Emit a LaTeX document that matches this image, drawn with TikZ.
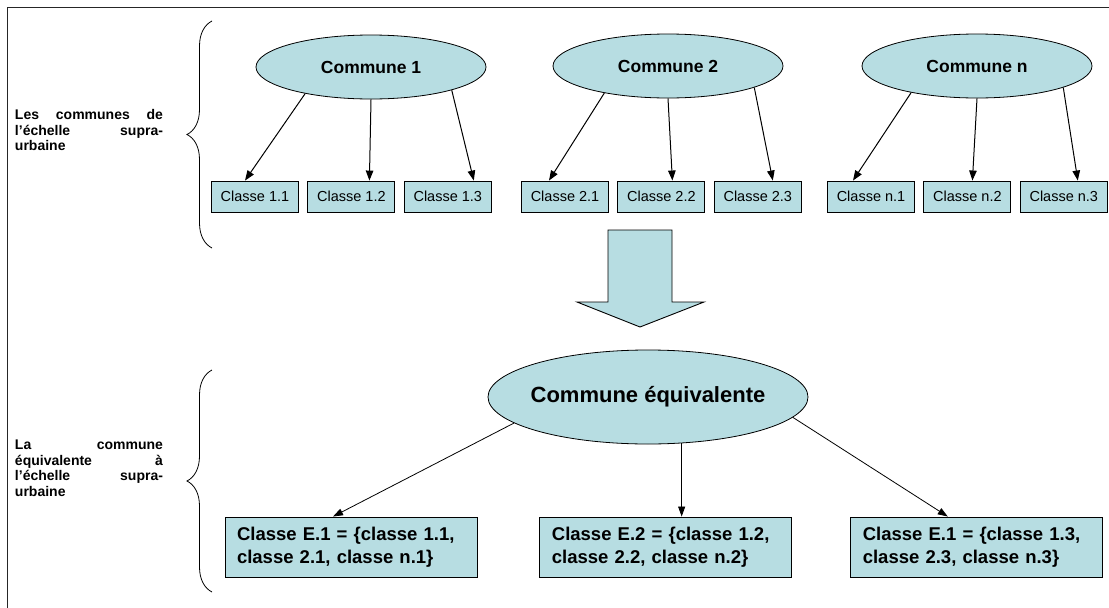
\documentclass[tikz,border=0pt]{standalone}
\usepackage{fontspec}
\setmainfont{Liberation Sans}
\usetikzlibrary{positioning, arrows.meta, shapes.geometric, decorations.pathreplacing}
\definecolor{aqua}{RGB}{183,221,226}

\begin{document}
\begin{tikzpicture}[
  x=1pt, y=-1pt,
  node distance=8.5pt,
  commune/.style={ellipse, draw=black, fill=aqua, line width=0.8pt, minimum width=230pt,
                  minimum height=64pt, font=\fontsize{17.5}{20}\selectfont\bfseries},
  classe/.style={rectangle, draw=black, fill=aqua, line width=0.9pt, minimum width=87pt,
                 minimum height=31pt, inner sep=2pt, font=\fontsize{14.5}{17}\selectfont},
  equiv/.style={commune, minimum width=320pt, minimum height=94pt, inner xsep=-6pt,
                font=\fontsize{22}{26}\selectfont\bfseries},
  result/.style={classe, text width=228pt, inner xsep=12pt, minimum height=60pt, align=left,
                 font=\fontsize{18.5}{22.5}\selectfont\bfseries},
  level/.style={text width=148pt, align=justify, inner sep=0pt,
                font=\fontsize{14}{15.5}\selectfont\bfseries},
  arrow/.style={-{Triangle[length=10pt,width=7.5pt]}, line width=1pt},
  thinarrow/.style={-{Triangle[length=10pt,width=7pt]}, line width=0.8pt},
  bracket/.style={decorate, decoration={brace, amplitude=25pt}, line width=0.8pt},
  bigarrow/.style={draw=black, fill=aqua, line width=0.9pt, line join=miter},
]
  \useasboundingbox (0,0) rectangle (1109,608);
  \draw[line width=1pt, black!85] (7,7) rectangle (1130,630);

  % supra-urban communes
  \node[commune] (com1) at (371,67) {Commune 1};
  \node[commune] (com2) at (668,66) {Commune 2};
  \node[commune] (comn) at (977,66) {Commune n};

  \node[classe] (c11) at (255,196.5) {Classe 1.1};
  \node[classe, right=of c11] (c12) {Classe 1.2};
  \node[classe, right=of c12] (c13) {Classe 1.3};
  \node[classe] (c21) at (565,196.5) {Classe 2.1};
  \node[classe, right=of c21] (c22) {Classe 2.2};
  \node[classe, right=of c22] (c23) {Classe 2.3};
  \node[classe] (cn1) at (871,196.5) {Classe n.1};
  \node[classe, right=of cn1] (cn2) {Classe n.2};
  \node[classe, right=of cn2] (cn3) {Classe n.3};

  \draw[arrow] (com1.202) -- ([xshift=-10pt]c11.north);
  \draw[arrow] (com1.270) -- ([xshift=18pt]c12.north);
  \draw[arrow] (com1.344) -- ([xshift=26pt]c13.north);
  \draw[arrow] (com2.203) -- ([xshift=-16pt]c21.north);
  \draw[arrow] (com2.270) -- ([xshift=11pt]c22.north);
  \draw[arrow] (com2.346) -- ([xshift=15pt]c23.north);
  \draw[arrow] (comn.202) -- ([xshift=-18pt]cn1.north);
  \draw[arrow] (comn.270) -- ([xshift=5pt]cn2.north);
  \draw[arrow] (comn.346) -- ([xshift=14pt]cn3.north);

  \draw[bigarrow] (608,230) -- (672,230) -- (672,302) -- (704,302) -- (640,327)
    -- (577,302) -- (608,302) -- cycle;

  % equivalent commune
  \node[equiv] (equiv) at (648,397) {Commune équivalente};

  \node[result] (e1) at (351,547) {Classe E.1 = \{classe 1.1, classe 2.1, classe n.1\}};
  \node[result, right=62pt of e1] (e2) {Classe E.2 = \{classe 1.2, classe 2.2, classe n.2\}};
  \node[result, right=58pt of e2] (e3) {Classe E.1 = \{classe 1.3, classe 2.3, classe n.3\}};

  \draw[thinarrow] (equiv.191) -- ([xshift=-18pt]e1.north);
  \draw[thinarrow] (equiv.306) -- (equiv.306 |- e2.north);
  \draw[thinarrow] (equiv.352) -- ([xshift=-29pt]e3.north);

  % levels
  \node[level] (lvl1) at (89,130) {Les communes de\linebreak l’échelle supra-\linebreak urbaine};
  \node[level] (lvl2) at (89,468) {La commune\linebreak équivalente à\linebreak l’échelle supra-\linebreak urbaine};
  \draw[bracket] (212,248) -- (212,21);
  \draw[bracket] (212,592) -- (212,370);
\end{tikzpicture}
\end{document}
